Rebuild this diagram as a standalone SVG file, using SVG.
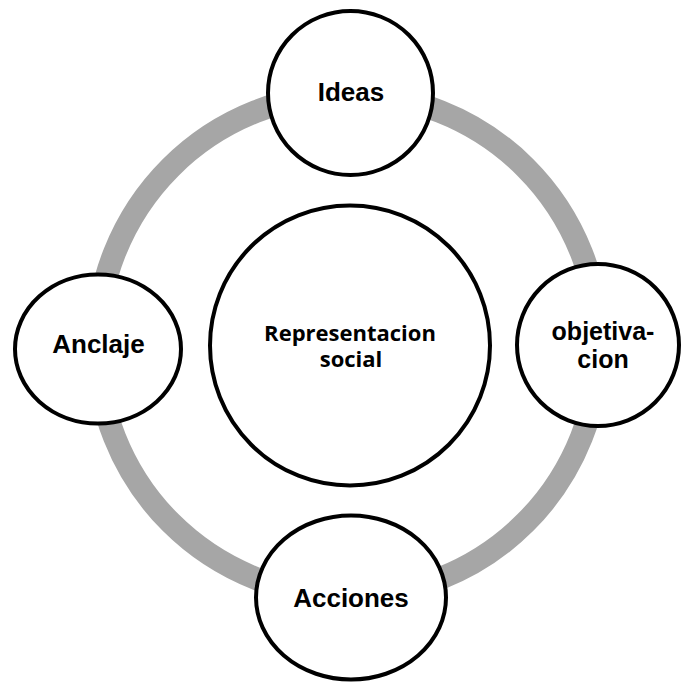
<svg xmlns="http://www.w3.org/2000/svg" width="681" height="682" viewBox="0 0 681 682">
  <style>
    .ring { fill: none; stroke: #a6a6a6; stroke-width: 23; }
    .node { fill: #ffffff; stroke: #000000; stroke-width: 4; }
    .lbl { font-family: "Liberation Sans", Arial, sans-serif; font-weight: bold; font-size: 26px; fill: #000000; text-anchor: middle; }
    .lbl2 { font-size: 25px; }
    .core { font-family: "Open Sans", "Noto Sans", sans-serif; font-weight: bold; font-size: 22px; fill: #000000; text-anchor: middle; }
  </style>
  <rect width="681" height="682" fill="#ffffff"/>

  <!-- cycle ring linking the four outer stages -->
  <g id="connectors">
    <circle class="ring" cx="348" cy="345" r="251"/>
  </g>

  <g id="node-center">
    <circle class="node" cx="350" cy="345.5" r="140"/>
    <text class="core" x="350" y="341">Representacion</text>
    <text class="core" x="351" y="367">social</text>
  </g>

  <g id="node-ideas">
    <ellipse class="node" cx="350.5" cy="93" rx="82.5" ry="82"/>
    <text class="lbl" x="351" y="101">Ideas</text>
  </g>

  <g id="node-anclaje">
    <ellipse class="node" cx="98" cy="349" rx="83" ry="74.5"/>
    <text class="lbl" x="98.5" y="353">Anclaje</text>
  </g>

  <g id="node-objetivacion">
    <ellipse class="node" cx="598" cy="345" rx="81" ry="81"/>
    <text class="lbl lbl2" x="603" y="340">objetiva-</text>
    <text class="lbl lbl2" x="603" y="367.5">cion</text>
  </g>

  <g id="node-acciones">
    <ellipse class="node" cx="351" cy="597.5" rx="95" ry="82"/>
    <text class="lbl" x="351" y="607">Acciones</text>
  </g>
</svg>
